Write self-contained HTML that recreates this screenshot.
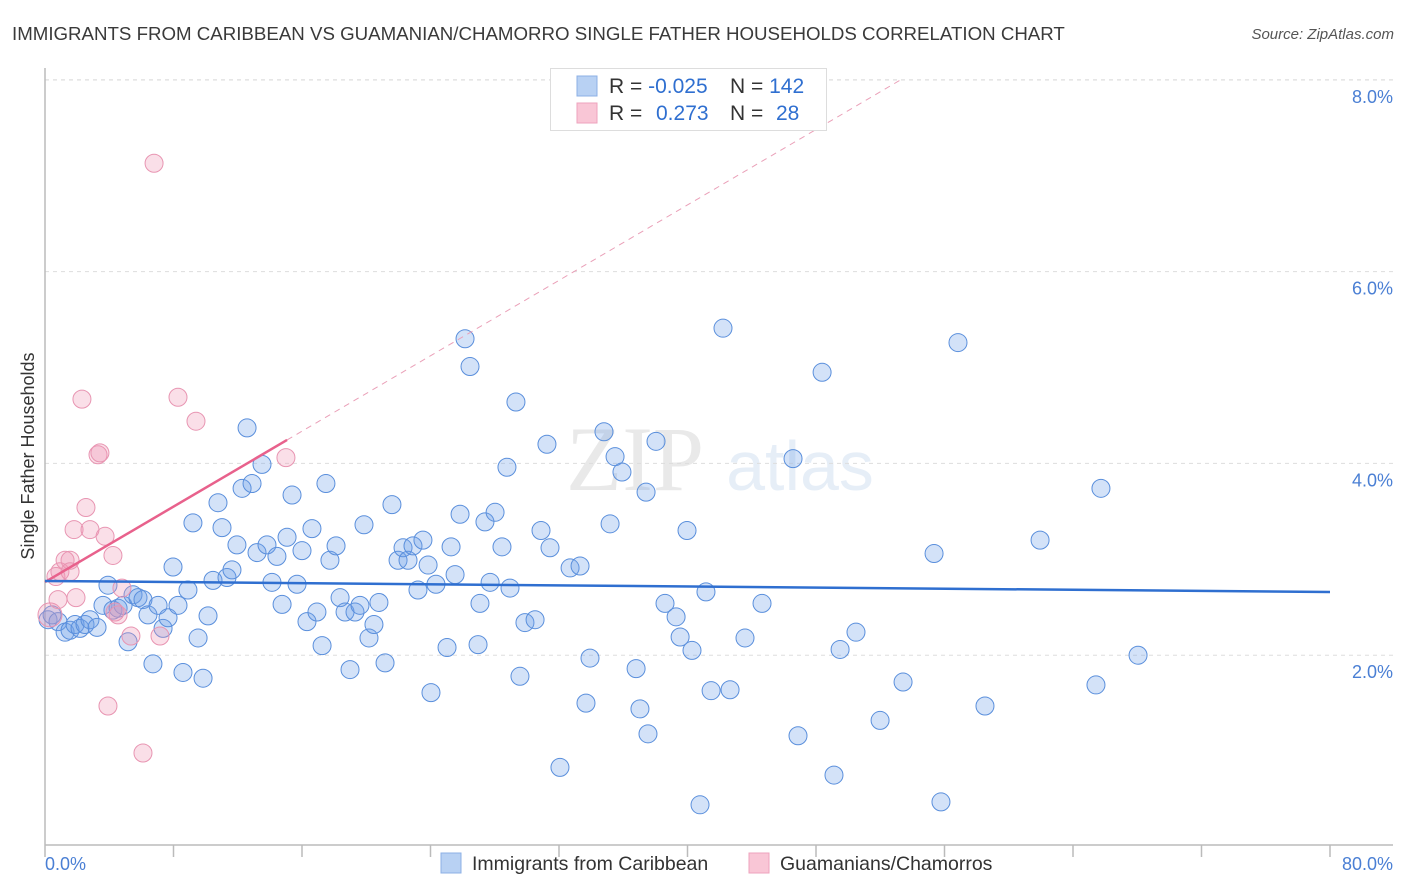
<!DOCTYPE html>
<html><head><meta charset="utf-8"><style>
body{margin:0;background:#fff;font-family:"Liberation Sans",sans-serif;}
svg{display:block}
</style></head><body>
<svg id="chart" width="1406" height="892" xmlns="http://www.w3.org/2000/svg">
<text x="12" y="40" font-size="18.7" fill="#3a3a3a">IMMIGRANTS FROM CARIBBEAN VS GUAMANIAN/CHAMORRO SINGLE FATHER HOUSEHOLDS CORRELATION CHART</text>
<text x="1394" y="39" font-size="15" fill="#555" font-style="italic" text-anchor="end">Source: ZipAtlas.com</text>
<g opacity="0.18">
<text x="635" y="490" font-size="92" font-family="Liberation Serif,serif" fill="#888" text-anchor="middle">ZIP</text>
<text x="800" y="490" font-size="70" fill="#7aa3d8" text-anchor="middle">atlas</text>
</g>
<g id="grid"></g>
<g id="axes"></g>
<g id="marks"></g>
<g>
<rect x="550.5" y="68.5" width="276" height="62" fill="#fff" stroke="#ddd"/>
<rect x="577" y="76" width="20" height="20" fill="#b8d1f3" stroke="#8cb0e6"/>
<rect x="577" y="103" width="20" height="20" fill="#f9c6d6" stroke="#eea3bd"/>
<text x="609" y="93" font-size="21" fill="#333">R = <tspan fill="#2f6fd0">-0.025</tspan></text>
<text x="730" y="93" font-size="21" fill="#333">N = <tspan fill="#2f6fd0">142</tspan></text>
<text x="609" y="120" font-size="21" fill="#333">R = <tspan fill="#2f6fd0" x="656">0.273</tspan></text>
<text x="730" y="120" font-size="21" fill="#333">N = <tspan fill="#2f6fd0" x="776">28</tspan></text>
</g>
<g>
<rect x="441" y="853" width="20" height="20" fill="#b8d1f3" stroke="#8cb0e6"/>
<text x="472" y="870" font-size="19.5" fill="#333">Immigrants from Caribbean</text>
<rect x="749" y="853" width="20" height="20" fill="#f9c6d6" stroke="#eea3bd"/>
<text x="780" y="870" font-size="19.5" fill="#333">Guamanians/Chamorros</text>
</g>
<text transform="translate(34,456) rotate(-90)" font-size="18" fill="#333" text-anchor="middle">Single Father Households</text>
</svg>
<script>
const yTicks=[2,4,6,8];
const yTickLabels=["2.0%","4.0%","6.0%","8.0%"];
const xTickLabels=["0.0%","80.0%"];
const blueX=[0.19,0.44,0.81,1.25,1.56,1.87,2.18,2.49,2.80,3.24,3.61,3.92,4.23,4.55,4.86,5.17,5.48,5.79,6.10,6.41,6.72,7.04,7.35,7.66,7.97,8.28,8.59,8.90,9.21,9.53,9.84,10.15,10.46,10.77,11.02,11.33,11.64,11.95,12.27,12.58,12.89,13.20,13.51,13.82,14.13,14.44,14.76,15.07,15.38,15.69,16.00,16.31,16.62,16.93,17.25,17.49,17.74,18.12,18.37,18.68,18.99,19.30,19.61,19.86,20.17,20.48,20.79,21.17,21.60,21.98,22.29,22.60,22.91,23.22,23.53,23.85,24.03,24.34,25.03,25.28,25.53,25.84,26.15,26.46,26.96,27.08,27.39,27.71,28.02,28.45,28.76,28.95,29.32,29.57,29.88,30.51,30.88,31.25,31.44,32.06,32.69,33.31,33.68,33.93,34.80,35.18,35.49,35.92,36.80,37.04,37.42,37.54,38.04,38.60,39.29,39.54,39.97,40.28,40.78,41.15,41.47,42.21,42.65,43.58,44.64,46.57,46.88,48.38,49.12,49.50,50.49,51.99,53.42,55.35,55.78,56.84,58.52,61.95,65.43,65.74,68.05];
const blueY=[2.37,2.42,2.35,2.24,2.26,2.32,2.28,2.32,2.37,2.29,2.52,2.73,2.47,2.49,2.52,2.14,2.63,2.60,2.58,2.42,1.91,2.52,2.28,2.39,2.92,2.52,1.82,2.68,3.38,2.18,1.76,2.41,2.78,3.59,3.33,2.81,2.89,3.15,3.74,4.37,3.79,3.07,3.99,3.15,2.76,3.03,2.53,3.23,3.67,2.74,3.09,2.35,3.32,2.45,2.10,3.79,2.99,3.14,2.60,2.45,1.85,2.45,2.52,3.36,2.18,2.32,2.55,1.92,3.57,2.99,3.12,2.99,3.14,2.68,3.20,2.94,1.61,2.74,2.08,3.13,2.84,3.47,5.30,5.01,2.11,2.54,3.39,2.76,3.49,3.13,3.96,2.70,4.64,1.78,2.34,2.37,3.30,4.20,3.12,0.83,2.91,2.93,1.50,1.97,4.33,3.37,4.07,3.91,1.86,1.44,3.70,1.18,4.23,2.54,2.40,2.19,3.30,2.05,0.44,2.66,1.63,5.41,1.64,2.18,2.54,4.05,1.16,4.95,0.75,2.06,2.24,1.32,1.72,3.06,0.47,5.26,1.47,3.20,1.69,3.74,2.00];
const pinkX=[0.31,0.68,0.93,1.25,1.56,1.81,1.93,2.30,2.55,2.80,3.30,3.42,3.74,3.92,4.23,4.36,4.79,5.35,6.10,6.79,7.16,8.28,9.40,15.00,1.56,0.81,4.55];
const pinkY=[2.42,2.82,2.87,2.99,2.99,3.31,2.60,4.67,3.54,3.31,4.09,4.11,3.24,1.47,3.04,2.45,2.70,2.20,0.98,7.13,2.20,4.69,4.44,4.06,2.87,2.58,2.42];
const blueTrend=[2.774,2.659];
const pinkTrend=[2.763,0.0983];

const X0=45,X1=1330,Y0=847,PPY=95.9;
const sx=v=>X0+(v/80)*(X1-X0);
const sy=v=>Y0-v*PPY;
const NS="http://www.w3.org/2000/svg";
function mk(tag,parent,attrs){const e=document.createElementNS(NS,tag);for(const k in attrs)e.setAttribute(k,attrs[k]);document.getElementById(parent).appendChild(e);return e;}

yTicks.forEach((t,i)=>{
  const g=mk('line','grid',{x1:45,x2:1393,y1:sy(t),y2:sy(t),stroke:'#ddd','stroke-dasharray':'4,4'});
  
  
  const l=mk('text','grid',{x:1393,y:sy(t)+23,'font-size':18,fill:'#4a7fd4','text-anchor':'end'});
  l.textContent=yTickLabels[i];
  
  
});
const topGrid=mk('line','grid',{x1:45,x2:1393,y1:80,y2:80,stroke:'#ddd','stroke-dasharray':'4,4'});



const ya=mk('line','axes',{x1:45,x2:45,y1:68,y2:845,stroke:'#bbb','stroke-width':1.5});


const xa=mk('line','axes',{x1:45,x2:1393,y1:845,y2:845,stroke:'#bbb','stroke-width':1.5});


for(let i=0;i<=10;i++){
  const t=mk('line','axes',{x1:sx(i*8),x2:sx(i*8),y1:845,y2:857,stroke:'#bbb','stroke-width':1.5});
  
  
}
const xl0=mk('text','axes',{x:45,y:870,'font-size':18,fill:'#4a7fd4'});
xl0.textContent=xTickLabels[0];


const xl1=mk('text','axes',{x:1393,y:870,'font-size':18,fill:'#4a7fd4','text-anchor':'end'});
xl1.textContent=xTickLabels[1];



blueX.forEach((x,i)=>{
  const c=mk('circle','marks',{cx:sx(x),cy:sy(blueY[i]),r:9,fill:'rgba(110,160,232,0.3)',stroke:'#5a8fdc','stroke-width':1});
  
  
});
pinkX.forEach((x,i)=>{
  const c=mk('circle','marks',{cx:sx(x),cy:sy(pinkY[i]),r:i===0?12:9,fill:'rgba(240,150,180,0.3)',stroke:'#e895b2','stroke-width':1});
  
  
});
const pe=(8-pinkTrend[0])/pinkTrend[1];
const pd=mk('line','marks',{x1:sx(15.07),y1:sy(pinkTrend[0]+pinkTrend[1]*15.07),x2:sx(pe),y2:sy(8),stroke:'#eaa0b8','stroke-width':1,'stroke-dasharray':'6,5'});


const ps=mk('line','marks',{x1:sx(0),y1:sy(pinkTrend[0]),x2:sx(15.07),y2:sy(pinkTrend[0]+pinkTrend[1]*15.07),stroke:'#e8618c','stroke-width':2.5});


const bt=mk('line','marks',{x1:sx(0),y1:sy(blueTrend[0]),x2:sx(80),y2:sy(blueTrend[1]),stroke:'#2f6fd0','stroke-width':2.5});


</script>
</body></html>
